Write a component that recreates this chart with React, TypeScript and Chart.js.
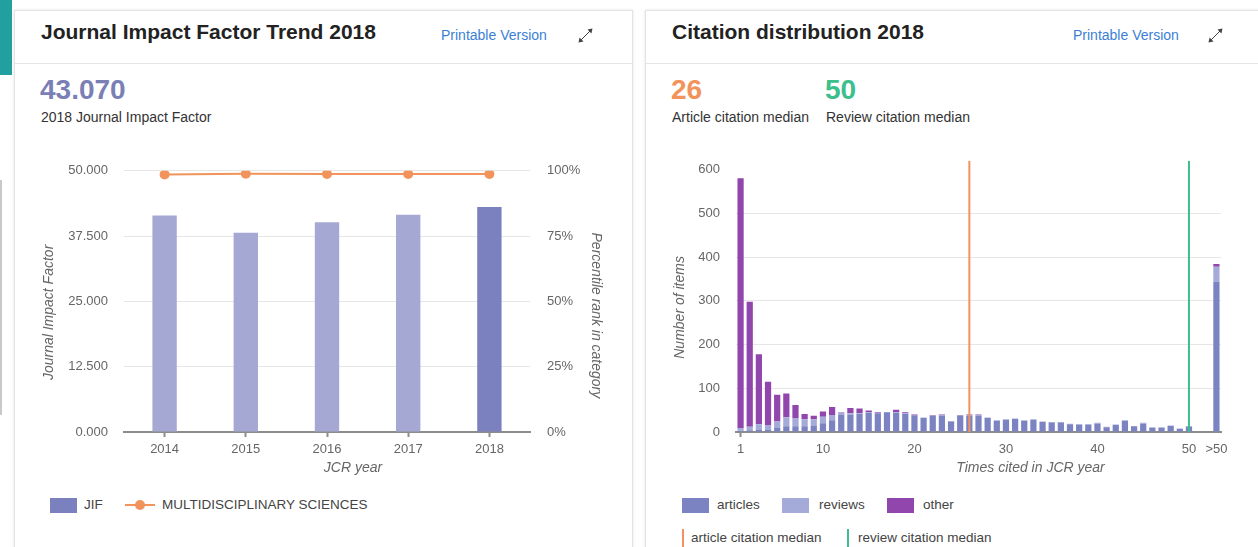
import React, { useEffect, useRef } from 'react';
import { Chart, registerables } from 'chart.js';

Chart.register(...registerables);

const FONT = '"Liberation Sans", Arial, Helvetica, sans-serif';

// ---------- Journal Impact Factor Trend 2018 ----------
const jcrYears = ['2014', '2015', '2016', '2017', '2018'];
const jifValues = [41.456, 38.138, 40.137, 41.577, 43.07];
const categoryPercentile = [98.6, 98.9, 98.8, 98.8, 98.8];
const jifTicks = [0, 12.5, 25, 37.5, 50];
const percentTicks = [0, 25, 50, 75, 100];
const jifBarColors = ['#a4a8d3', '#a4a8d3', '#a4a8d3', '#a4a8d3', '#7b80be'];

// ---------- Citation distribution 2018 ----------
const citedCategories = [
  '1', '2', '3', '4', '5', '6', '7', '8', '9', '10',
  '11', '12', '13', '14', '15', '16', '17', '18', '19', '20',
  '21', '22', '23', '24', '25', '26', '27', '28', '29', '30',
  '31', '32', '33', '34', '35', '36', '37', '38', '39', '40',
  '41', '42', '43', '44', '45', '46', '47', '48', '49', '50',
  '', ' ', '>50',
];
const articles = [
  3, 4, 6, 6, 9, 13, 13, 13, 14, 20,
  27, 40, 40, 41, 44, 43, 45, 44, 42, 38,
  32, 37, 38, 24, 37, 38, 38, 32, 26, 28,
  30, 26, 28, 23, 22, 22, 18, 17, 17, 19,
  11, 16, 25, 13, 19, 10, 10, 14, 7, 12,
  null, null, 344,
];
const reviews = [
  6, 8, 12, 10, 15, 21, 18, 16, 15, 15,
  12, 4, 3, 2, 1, 1, 1, 2, 1, 0,
  1, 1, 1, 1, 1, 1, 1, 1, 1, 1,
  1, 1, 1, 1, 1, 1, 1, 1, 1, 2,
  1, 1, 2, 1, 2, 1, 1, 1, 1, 2,
  null, null, 34,
];
const other = [
  571, 286, 160, 99, 61, 54, 31, 12, 8, 12,
  18, 1, 12, 11, 4, 2, 0, 5, 2, 2,
  0, 1, 1, 0, 1, 1, 1, 0, 0, 0,
  0, 0, 0, 0, 0, 0, 0, 0, 0, 0,
  0, 0, 0, 0, 0, 0, 0, 0, 0, 0,
  null, null, 6,
];
const citedTickLabels = ['1', '10', '20', '30', '40', '50', '>50'];
const countTicks = [0, 100, 200, 300, 400, 500, 600];
const countMax = 620;
const articleMedian = '26';
const reviewMedian = '50';

const ORANGE = '#f2935c';
const GREEN = '#3cbf8c';
const C_ARTICLES = '#7c83c2';
const C_REVIEWS = '#a5abd8';
const C_OTHER = '#9146ae';
const AXIS = '#8c8c8c';
const GRID = '#e6e6e6';
const TICK_TXT = '#666666';

// draws axis titles at Chart.js positions with small offsets (scale-based)
const axisTitlePlugin = {
  id: 'axisTitles',
  afterDraw(chart: any, _args: any, opts: any) {
    const items = (opts && opts.items) || [];
    const ctx = chart.ctx;
    for (const it of items) {
      const s = chart.scales[it.scale];
      if (!s) continue;
      ctx.save();
      ctx.font = `italic 14px ${FONT}`;
      ctx.fillStyle = TICK_TXT;
      ctx.textAlign = 'center';
      ctx.textBaseline = 'middle';
      if (s.isHorizontal()) {
        ctx.fillText(it.text, (s.left + s.right) / 2 + (it.dx || 0), s.bottom - 12);
      } else {
        const left = s.position === 'left';
        const x = (left ? s.left + 12 : s.right - 12) + (it.dx || 0);
        const y = (s.top + s.bottom) / 2 + (it.dy || 0);
        ctx.translate(x, y);
        ctx.rotate(left ? -Math.PI / 2 : Math.PI / 2);
        ctx.fillText(it.text, 0, 0);
      }
      ctx.restore();
    }
  },
};

const tickFont = { family: FONT, size: 13 };

function JifChart() {
  const ref = useRef<HTMLCanvasElement | null>(null);
  useEffect(() => {
    if (!ref.current) return;
    const chart = new Chart(ref.current, {
      type: 'bar',
      data: {
        labels: jcrYears,
        datasets: [
          {
            type: 'line',
            label: 'MULTIDISCIPLINARY SCIENCES',
            data: categoryPercentile,
            yAxisID: 'y2',
            borderColor: ORANGE,
            backgroundColor: ORANGE,
            borderWidth: 2,
            pointRadius: 5,
            pointHoverRadius: 5,
            pointBorderWidth: 0,
            order: 0,
          } as any,
          {
            type: 'bar',
            label: 'JIF',
            data: jifValues,
            yAxisID: 'y',
            backgroundColor: jifBarColors,
            barPercentage: 0.3,
            categoryPercentage: 1,
            order: 1,
          } as any,
        ],
      },
      options: {
        animation: false,
        responsive: false,
        maintainAspectRatio: false,
        layout: { padding: 0 },
        plugins: {
          legend: { display: false },
          tooltip: { enabled: false },
          axisTitles: {
            items: [
              { scale: 'x', text: 'JCR year', dx: 26 },
              { scale: 'y', text: 'Journal Impact Factor', dy: 11, dx: 2 },
              { scale: 'y2', text: 'Percentile rank in category', dy: 14, dx: 1 },
            ],
          },
        } as any,
        scales: {
          x: {
            type: 'category',
            offset: true,
            grid: {
              display: true,
              drawOnChartArea: false,
              offset: false,
              tickLength: 5,
              tickColor: AXIS,
              tickWidth: 2,
            },
            border: { color: AXIS, width: 2 },
            ticks: { color: TICK_TXT, font: tickFont, padding: 5, maxRotation: 0, autoSkip: false },
            afterFit: (s: any) => { s.height = 48; },
          },
          y: {
            position: 'left',
            min: 0,
            max: 50,
            afterBuildTicks: (s: any) => { s.ticks = jifTicks.map((v) => ({ value: v })); },
            ticks: { color: TICK_TXT, font: tickFont, padding: 16, callback: (v: any) => Number(v).toFixed(3) },
            grid: { color: GRID, drawTicks: false },
            border: { display: false },
            afterFit: (s: any) => { s.width = 89; },
          },
          y2: {
            position: 'right',
            min: 0,
            max: 100,
            afterBuildTicks: (s: any) => { s.ticks = percentTicks.map((v) => ({ value: v })); },
            ticks: { color: TICK_TXT, font: tickFont, padding: 17, callback: (v: any) => `${v}%` },
            grid: { drawOnChartArea: false, drawTicks: false },
            border: { display: false },
            afterFit: (s: any) => { s.width = 77; },
          },
        } as any,
      },
      plugins: [axisTitlePlugin as any],
    });
    return () => chart.destroy();
  }, []);
  return (
    <canvas
      ref={ref}
      width={572}
      height={334}
      style={{ position: 'absolute', left: 35, top: 146, width: 572, height: 334 }}
    />
  );
}

function CitationChart() {
  const ref = useRef<HTMLCanvasElement | null>(null);
  useEffect(() => {
    if (!ref.current) return;
    const shown = (i: number) => citedTickLabels.includes(citedCategories[i]);
    const chart = new Chart(ref.current, {
      type: 'bar',
      data: {
        labels: citedCategories,
        datasets: [
          {
            type: 'line',
            label: 'article citation median',
            data: [{ x: articleMedian, y: 0 }, { x: articleMedian, y: countMax }],
            borderColor: ORANGE,
            borderWidth: 2,
            pointRadius: 0,
            stack: 'm1',
            order: 0,
          } as any,
          {
            type: 'line',
            label: 'review citation median',
            data: [{ x: reviewMedian, y: 0 }, { x: reviewMedian, y: countMax }],
            borderColor: GREEN,
            borderWidth: 2,
            pointRadius: 0,
            stack: 'm2',
            order: 0,
          } as any,
          { type: 'bar', label: 'articles', data: articles, backgroundColor: C_ARTICLES, stack: 'c', order: 1, barPercentage: 0.68, categoryPercentage: 1 } as any,
          { type: 'bar', label: 'reviews', data: reviews, backgroundColor: C_REVIEWS, stack: 'c', order: 1, barPercentage: 0.68, categoryPercentage: 1 } as any,
          { type: 'bar', label: 'other', data: other, backgroundColor: C_OTHER, stack: 'c', order: 1, barPercentage: 0.68, categoryPercentage: 1 } as any,
        ],
      },
      options: {
        animation: false,
        responsive: false,
        maintainAspectRatio: false,
        layout: { padding: { top: 0, left: 0, right: 24, bottom: 0 } },
        plugins: {
          legend: { display: false },
          tooltip: { enabled: false },
          axisTitles: {
            items: [
              { scale: 'x', text: 'Times cited in JCR year', dx: 52 },
              { scale: 'y', text: 'Number of items', dy: 11, dx: 1 },
            ],
          },
        } as any,
        scales: {
          x: {
            type: 'category',
            offset: true,
            stacked: true,
            grid: {
              display: true,
              drawOnChartArea: false,
              offset: false,
              tickLength: 5,
              tickWidth: 2,
              tickColor: (c: any) => (shown(c.index) ? AXIS : 'rgba(0,0,0,0)'),
            },
            border: { color: AXIS, width: 2 },
            ticks: {
              color: TICK_TXT,
              font: tickFont,
              padding: 5,
              maxRotation: 0,
              autoSkip: false,
              callback: (_v: any, i: number) => (shown(i) ? citedCategories[i] : null),
            },
            afterFit: (s: any) => { s.height = 48; },
          },
          y: {
            position: 'left',
            stacked: true,
            min: 0,
            max: countMax,
            afterBuildTicks: (s: any) => { s.ticks = countTicks.map((v) => ({ value: v })); },
            ticks: { color: TICK_TXT, font: tickFont, padding: 16 },
            grid: {
              color: (c: any) => (c.tick && c.tick.value === 600 ? 'rgba(0,0,0,0)' : GRID),
              drawTicks: false,
            },
            border: { display: false },
            afterFit: (s: any) => { s.width = 69; },
          },
        } as any,
      },
      plugins: [axisTitlePlugin as any],
    });
    return () => chart.destroy();
  }, []);
  return (
    <canvas
      ref={ref}
      width={578}
      height={343}
      style={{ position: 'absolute', left: 667, top: 137, width: 578, height: 343 }}
    />
  );
}

function ExpandIcon({ x, y }: { x: number; y: number }) {
  return (
    <svg style={{ position: 'absolute', left: x, top: y }} width="17" height="17" viewBox="0 0 17 17">
      <path d="M3.5 13.5 L13.5 3.5" stroke="#444" strokeWidth="1" fill="none" />
      <polygon points="15.5,1.5 10.5,2.6 14.4,6.5" fill="#444" />
      <polygon points="1.5,15.5 2.6,10.5 6.5,14.4" fill="#444" />
    </svg>
  );
}

const txt = (
  left: number,
  top: number,
  text: string,
  style: React.CSSProperties = {}
) => (
  <div
    style={{
      position: 'absolute',
      left,
      top,
      whiteSpace: 'nowrap',
      fontFamily: FONT,
      fontSize: 14,
      lineHeight: '16px',
      color: '#333',
      ...style,
    }}
  >
    {text}
  </div>
);

function Swatch({ x, y, color }: { x: number; y: number; color: string }) {
  return <div style={{ position: 'absolute', left: x, top: y, width: 27, height: 15, background: color }} />;
}

export default function App() {
  const legendText = { fontSize: 13.5, color: '#444' };
  return (
    <div
      style={{
        position: 'fixed',
        left: 0,
        top: 0,
        width: 1258,
        height: 547,
        overflow: 'hidden',
        background: '#ffffff',
        fontFamily: FONT,
      }}
    >
      {/* page decorations at the left edge */}
      <div style={{ position: 'absolute', left: 0, top: 0, width: 12, height: 75, background: '#22a0a0' }} />
      <div style={{ position: 'absolute', left: 0, top: 180, width: 2, height: 235, background: '#c9c9c9' }} />

      {/* card 1 */}
      <div
        style={{
          position: 'absolute', left: 14, top: 10, width: 617, height: 600,
          border: '1px solid #e3e3e3', boxShadow: '0 0 3px rgba(0,0,0,0.10)', background: '#fff',
        }}
      />
      <div style={{ position: 'absolute', left: 15, top: 63, width: 617, height: 1, background: '#e6e6e6' }} />
      {txt(41, 20, 'Journal Impact Factor Trend 2018', { fontSize: 21, lineHeight: '24px', fontWeight: 700, color: '#222' })}
      {txt(441, 27, 'Printable Version', { fontSize: 14, color: '#3b7fd4' })}
      <ExpandIcon x={577} y={27} />
      {txt(40, 74, '43.070', { fontSize: 28, lineHeight: '32px', fontWeight: 700, color: '#7a7fb6' })}
      {txt(41, 109, '2018 Journal Impact Factor', { fontSize: 14, color: '#333' })}
      <JifChart />
      {/* legend 1 */}
      <Swatch x={50} y={498} color="#7b80be" />
      {txt(84, 497, 'JIF', legendText)}
      <div style={{ position: 'absolute', left: 125, top: 504, width: 30, height: 2, background: ORANGE }} />
      <div style={{ position: 'absolute', left: 135, top: 500, width: 10, height: 10, borderRadius: 5, background: ORANGE }} />
      {txt(162, 497, 'MULTIDISCIPLINARY SCIENCES', legendText)}

      {/* card 2 */}
      <div
        style={{
          position: 'absolute', left: 645, top: 10, width: 700, height: 600,
          border: '1px solid #e3e3e3', boxShadow: '0 0 3px rgba(0,0,0,0.10)', background: '#fff',
        }}
      />
      <div style={{ position: 'absolute', left: 646, top: 63, width: 700, height: 1, background: '#e6e6e6' }} />
      {txt(672, 20, 'Citation distribution 2018', { fontSize: 21, lineHeight: '24px', fontWeight: 700, color: '#222' })}
      {txt(1073, 27, 'Printable Version', { fontSize: 14, color: '#3b7fd4' })}
      <ExpandIcon x={1207} y={27} />
      {txt(671, 74, articleMedian, { fontSize: 28, lineHeight: '32px', fontWeight: 700, color: ORANGE })}
      {txt(825, 74, reviewMedian, { fontSize: 28, lineHeight: '32px', fontWeight: 700, color: GREEN })}
      {txt(672, 109, 'Article citation median', { fontSize: 14, color: '#333' })}
      {txt(826, 109, 'Review citation median', { fontSize: 14, color: '#333' })}
      <CitationChart />
      {/* legend 2 */}
      <Swatch x={682} y={498} color={C_ARTICLES} />
      {txt(717, 497, 'articles', legendText)}
      <Swatch x={782} y={498} color={C_REVIEWS} />
      {txt(819, 497, 'reviews', legendText)}
      <Swatch x={887} y={498} color={C_OTHER} />
      {txt(923, 497, 'other', legendText)}
      <div style={{ position: 'absolute', left: 682, top: 529, width: 2, height: 18, background: ORANGE }} />
      {txt(691, 530, 'article citation median', legendText)}
      <div style={{ position: 'absolute', left: 847, top: 529, width: 2, height: 18, background: GREEN }} />
      {txt(858, 530, 'review citation median', legendText)}
    </div>
  );
}
